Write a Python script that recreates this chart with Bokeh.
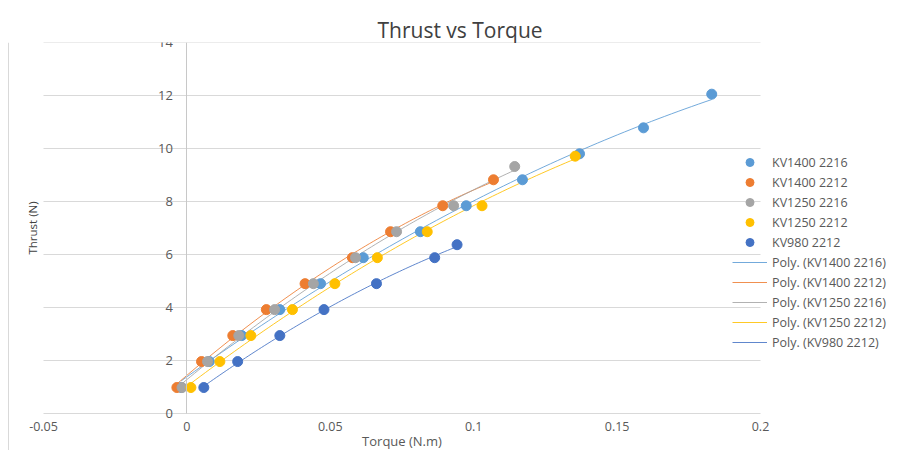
import numpy as np
from bokeh.plotting import figure
from bokeh.models import Range1d, FixedTicker, Legend, LegendItem, Label, Span
from bokeh.embed import file_html
from bokeh.resources import INLINE

# ---------------- data ----------------
series_names = ["KV1400 2216", "KV1400 2212", "KV1250 2216", "KV1250 2212", "KV980 2212"]
series_colors = ["#5B9BD5", "#ED7D31", "#A5A5A5", "#FFC000", "#4472C4"]

kv1400_2216_torque = [-0.0020, 0.0078, 0.0191, 0.0324, 0.0466, 0.0615, 0.0814, 0.0974, 0.1170, 0.1369, 0.1592, 0.1830]
kv1400_2216_thrust = [0.98, 1.96, 2.94, 3.92, 4.90, 5.88, 6.86, 7.84, 8.82, 9.80, 10.78, 12.05]

kv1400_2212_torque = [-0.0035, 0.0051, 0.0160, 0.0277, 0.0412, 0.0577, 0.0710, 0.0892, 0.1069]
kv1400_2212_thrust = [0.98, 1.96, 2.94, 3.92, 4.90, 5.88, 6.86, 7.84, 8.82]

kv1250_2216_torque = [-0.0017, 0.0072, 0.0181, 0.0306, 0.0441, 0.0588, 0.0731, 0.0930, 0.1143]
kv1250_2216_thrust = [0.98, 1.96, 2.94, 3.92, 4.90, 5.88, 6.86, 7.84, 9.32]

kv1250_2212_torque = [0.0014, 0.0115, 0.0223, 0.0368, 0.0516, 0.0664, 0.0838, 0.1029, 0.1354]
kv1250_2212_thrust = [0.98, 1.96, 2.94, 3.92, 4.90, 5.88, 6.86, 7.84, 9.71]

kv980_2212_torque = [0.0059, 0.0177, 0.0324, 0.0478, 0.0661, 0.0864, 0.0942]
kv980_2212_thrust = [0.98, 1.96, 2.94, 3.92, 4.90, 5.88, 6.37]

x_ticks = [-0.05, 0.0, 0.05, 0.1, 0.15, 0.2]
x_tick_labels = ["-0.05", "0", "0.05", "0.1", "0.15", "0.2"]
y_ticks = [0, 2, 4, 6, 8, 10, 12, 14]
y_tick_labels = ["0", "2", "4", "6", "8", "10", "12", "14"]

torques = [kv1400_2216_torque, kv1400_2212_torque, kv1250_2216_torque, kv1250_2212_torque, kv980_2212_torque]
thrusts = [kv1400_2216_thrust, kv1400_2212_thrust, kv1250_2216_thrust, kv1250_2212_thrust, kv980_2212_thrust]

FONT = "Open Sans"
TXT = "#595959"

# ---------------- layout (pixels) ----------------
W, H = 899, 450
FRAME_T = 42                         # title sits above this; frame fills the rest
AXIS_L, AXIS_R, AXIS_B = 43, 760, 413  # where x = -0.05, x = 0.2 and y = 0 fall
x0, x1 = x_ticks[0], x_ticks[-1]
y0, y1 = y_ticks[0], y_ticks[-1]
ppx = (AXIS_R - AXIS_L) / (x1 - x0)          # pixels per x unit
ppy = (AXIS_B - FRAME_T) / (y1 - y0)         # pixels per y unit
x_start = x0 - AXIS_L / ppx
x_end = x1 + (W - AXIS_R) / ppx
y_start = y0 - (H - AXIS_B) / ppy

p = figure(width=W, height=H, x_range=Range1d(x_start, x_end), y_range=Range1d(y_start, y1),
           output_backend="svg", toolbar_location=None,
           title="Thrust vs Torque",
           min_border_left=0, min_border_right=0, min_border_top=FRAME_T, min_border_bottom=0)
p.outline_line_color = None
p.background_fill_color = "white"
p.border_fill_color = "white"

# title
p.title.align = "left"
p.title.offset = 377
p.title.standoff = -2
p.title.text_font = FONT
p.title.text_font_size = "21px"
p.title.text_font_style = "normal"
p.title.text_color = "#404040"

# x axis along y = 0
p.xaxis.fixed_location = 0
p.xaxis.ticker = FixedTicker(ticks=x_ticks)
p.xaxis.major_label_overrides = {t: l for t, l in zip(x_ticks, x_tick_labels)}
p.xaxis.axis_line_color = None
p.xaxis.major_tick_line_color = None
p.xaxis.minor_tick_line_color = None
p.xaxis.major_tick_out = 0
p.xaxis.major_label_standoff = 8
p.xaxis.major_label_text_font = FONT
p.xaxis.major_label_text_font_size = "12.5px"
p.xaxis.major_label_text_color = TXT

# y axis crossing at x = 0
p.yaxis.fixed_location = 0
p.yaxis.bounds = (y0, y1)
p.yaxis.ticker = FixedTicker(ticks=y_ticks)
p.yaxis.major_label_overrides = {t: l for t, l in zip(y_ticks, y_tick_labels)}
p.yaxis.axis_line_color = "#c8c8c8"
p.yaxis.major_tick_line_color = None
p.yaxis.minor_tick_line_color = None
p.yaxis.major_tick_out = 0
p.yaxis.major_label_standoff = 14
p.yaxis.major_label_text_font = FONT
p.yaxis.major_label_text_font_size = "13px"
p.yaxis.major_label_text_color = TXT

# chart-area border on the left
p.add_layout(Span(location=x_start + 8 / ppx, dimension="height",
                  line_color="#d9d9d9", line_width=1, level="underlay"))

# horizontal gridlines spanning the axis range only
p.xgrid.grid_line_color = None
p.ygrid.grid_line_color = None
p.segment(x0=[x0] * len(y_ticks), y0=y_ticks, x1=[x1] * len(y_ticks), y1=y_ticks,
          line_color="#d9d9d9", line_width=1, level="underlay")

# trendlines (2nd order polynomial fits of each series)
trend_renderers = []
for tq, th, c in zip(torques, thrusts, series_colors):
    coeffs = np.polyfit(tq, th, 2)
    xs = np.linspace(min(tq), max(tq), 80)
    ys = np.polyval(coeffs, xs)
    r = p.line(xs, ys, line_color=c, line_width=1, line_alpha=0.85)
    trend_renderers.append(r)

# markers
marker_renderers = []
for tq, th, c in zip(torques, thrusts, series_colors):
    r = p.scatter(tq, th, size=10, marker="circle", fill_color=c, line_color=c)
    marker_renderers.append(r)

items = [LegendItem(label=n, renderers=[r]) for n, r in zip(series_names, marker_renderers)]
items += [LegendItem(label="Poly. (%s)" % n, renderers=[r]) for n, r in zip(series_names, trend_renderers)]

legend = Legend(items=items, location=(732, 98), padding=0, margin=0, spacing=0,
                glyph_width=35, glyph_height=20, label_height=20, label_standoff=5,
                border_line_color=None, background_fill_alpha=0,
                label_text_font=FONT, label_text_font_size="12.5px", label_text_color=TXT)
p.add_layout(legend, "center")

# axis titles
p.add_layout(Label(x=(x0 + x1) / 2, y=-1.02, text="Torque (N.m)", text_align="center",
                   text_baseline="middle", text_font=FONT, text_font_size="13px",
                   text_color=TXT))
p.add_layout(Label(x=x_start + 32 / ppx, y=(y0 + y1) / 2, text="Thrust (N)", angle=np.pi / 2,
                   text_align="center", text_baseline="middle", text_font=FONT,
                   text_font_size="11.5px", text_color="#404040"))

open("out.html", "w").write(file_html(p, INLINE))
